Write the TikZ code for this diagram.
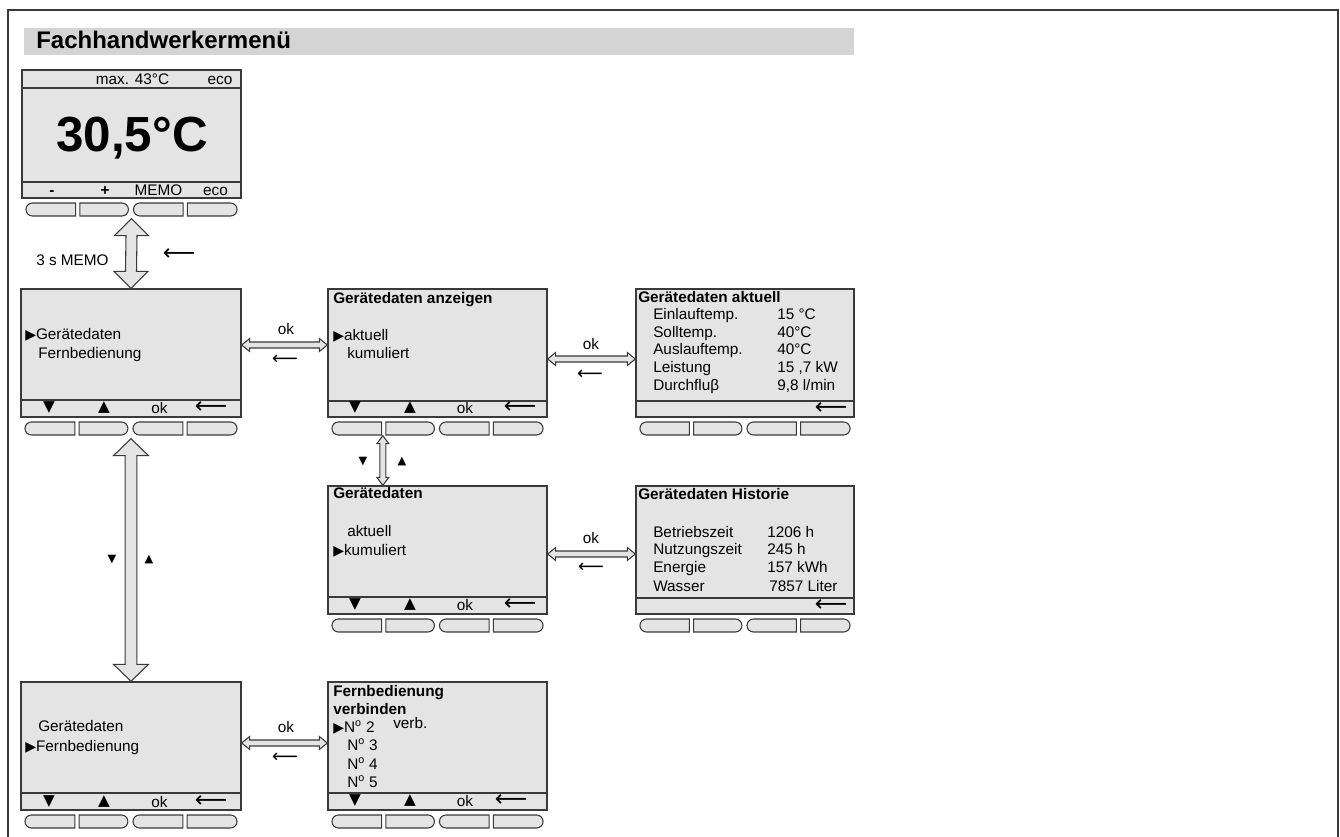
\documentclass[tikz,border=0pt]{standalone}
\usepackage{fontspec}
\setmainfont{Liberation Sans}
\newfontfamily\sym{DejaVu Sans}
\usetikzlibrary{calc,fit}
\definecolor{scr}{HTML}{E4E4E4}
\definecolor{barc}{HTML}{D4D4D4}
\definecolor{edge}{HTML}{3A3A3A}
\tikzset{
 screenbox/.style={draw=edge, fill=scr, line width=1pt, inner sep=0pt},
 sline/.style={draw=edge, line width=0.9pt},
 btn/.style={draw=edge, fill=scr, line width=0.8pt},
 blk/.style={draw=edge, fill=scr, line width=0.8pt, line join=miter},
 txt/.style={inner sep=0pt, font=\fontsize{11.5}{13}\selectfont, text height=8pt, text depth=0pt, anchor=west},
 ctxt/.style={txt, anchor=center},
 btxt/.style={txt, font=\fontsize{11.5}{13}\selectfont\bfseries},
 tri/.style={inner sep=0pt, font=\sym\fontsize{11.5}{12}\selectfont, anchor=center},
 smtri/.style={inner sep=0pt, font=\sym\fontsize{8.5}{10}\selectfont, anchor=center},
 back/.style={inner sep=0pt, font=\sym\fontsize{17}{17}\selectfont, anchor=center},
 sback/.style={inner sep=0pt, font=\sym\fontsize{13.5}{13.5}\selectfont, anchor=center},
}
\newcommand\ptr{{\sym\fontsize{10.5}{12}\selectfont ▶}}
\newcommand\btnL[3]{\draw[btn] ({#2},{#3}) -- ({#1+6.5},{#3}) arc[start angle=270,end angle=90,radius=6.5] -- ({#2},{#3+13}) -- cycle;}
\newcommand\btnR[3]{\draw[btn] ({#1},{#3}) -- ({#2-6.5},{#3}) arc[start angle=270,end angle=450,radius=6.5] -- ({#1},{#3+13}) -- cycle;}
\newcommand\screen[6]{%
 \node[screenbox, fit={(#2,#3)(#4,#5)}] (#1) {};
 \draw[sline] (#2,#6) -- (#4,#6);
 \pgfmathsetmacro\bw{#4-#2}
 \btnL{#2+0.018*\bw}{#2+0.245*\bw}{#5+5}
 \btnR{#2+0.264*\bw}{#2+0.486*\bw}{#5+5}
 \btnL{#2+0.509*\bw}{#2+0.736*\bw}{#5+5}
 \btnR{#2+0.755*\bw}{#2+0.982*\bw}{#5+5}
}
\newcommand\vblock[5]{\draw[blk] (#1) -- ($(#1)+(#4,#5)$) -- ($(#1)+(#3,#5)$) -- ($(#2)+(#3,-#5)$) -- ($(#2)+(#4,-#5)$) -- (#2) -- ($(#2)+(-#4,-#5)$) -- ($(#2)+(-#3,-#5)$) -- ($(#1)+(-#3,#5)$) -- ($(#1)+(-#4,#5)$) -- cycle;}
\newcommand\hblock[5]{\draw[blk] (#1) -- ($(#1)+(#5,-#4)$) -- ($(#1)+(#5,-#3)$) -- ($(#2)+(-#5,-#3)$) -- ($(#2)+(-#5,-#4)$) -- (#2) -- ($(#2)+(-#5,#4)$) -- ($(#2)+(-#5,#3)$) -- ($(#1)+(#5,#3)$) -- ($(#1)+(#5,#4)$) -- cycle;}
\begin{document}
\begin{tikzpicture}[x=0.75pt,y=-0.75pt]
\useasboundingbox (0,0) rectangle (1340,837);
% frame
\draw[edge, line width=1.1pt] (8,837) -- (8,10) -- (1338,10) -- (1338,837);
% title bar
\node[fill=barc, inner sep=0pt, fit={(24,28)(854,55)}] (bar) {};
\node[inner sep=0pt, anchor=west, font=\fontsize{18}{20}\selectfont\bfseries, text height=12.8pt, text depth=0pt] (title) at (36,39.5) {Fachhandwerkermenü};

% main display
\screen{s0}{22}{70}{241}{198}{182}
\draw[sline] (22,88) -- (241,88);
\node[ctxt] (s0a) at (132.5,79) {max. 43°C};
\node[ctxt] (s0b) at (220,79) {eco};
\node[inner sep=0pt, anchor=center, font=\fontsize{37}{40}\selectfont\bfseries, text height=26.5pt, text depth=0pt] (s0t) at (132,134) {30,5°C};
\node[ctxt, font=\fontsize{11.5}{13}\selectfont\bfseries] (s0k1) at (52,190) {-};
\node[ctxt, font=\fontsize{11.5}{13}\selectfont\bfseries] (s0k2) at (105,190) {+};
\node[ctxt] (s0k3) at (158.5,190) {MEMO};
\node[ctxt] (s0k4) at (215.5,190) {eco};

% menu 1
\screen{m1}{21}{289}{241}{417}{400}
\node[txt] (m1a) at (25,334) {\ptr Gerätedaten};
\node[txt] (m1b) at (38,353) {Fernbedienung};
\node[tri] (m1k1) at (49,408) {▼};
\node[tri] (m1k2) at (104,408) {▲};
\node[ctxt] (m1k3) at (159.5,408) {ok};
\node[back] (m1k4) at (211,408) {⟵};

% menu 2
\screen{m2}{328}{289}{547}{417}{401}
\node[btxt] (m2t) at (333,298) {Gerätedaten anzeigen};
\node[txt] (m2a) at (333,335) {\ptr aktuell};
\node[txt] (m2b) at (347,353) {kumuliert};
\node[tri] (m2k1) at (355,408) {▼};
\node[tri] (m2k2) at (410,408) {▲};
\node[ctxt] (m2k3) at (465,408) {ok};
\node[back] (m2k4) at (520,408) {⟵};

% menu 3
\screen{m3}{636}{289}{854}{417}{401}
\node[btxt] (m3t) at (638,297) {Gerätedaten aktuell};
\node[txt] (m3r1) at (653,314) {Einlauftemp.};
\node[txt] (m3r2) at (653,332) {Solltemp.};
\node[txt] (m3r3) at (653,349) {Auslauftemp.};
\node[txt] (m3r4) at (653,367) {Leistung};
\node[txt] (m3r5) at (653,385) {Durchfluβ};
\node[txt] (m3v1) at (777,314) {15 °C};
\node[txt] (m3v2) at (777,332) {40°C};
\node[txt] (m3v3) at (777,349) {40°C};
\node[txt] (m3v4) at (777,367) {15 ,7 kW};
\node[txt] (m3v5) at (777,385) {9,8 l/min};
\node[back] (m3k4) at (831,409) {⟵};

% menu 4
\screen{m4}{328}{486}{547}{614}{597}
\node[btxt] (m4t) at (333,493) {Gerätedaten};
\node[txt] (m4a) at (347,531) {aktuell};
\node[txt] (m4b) at (333,550) {\ptr kumuliert};
\node[tri] (m4k1) at (355,605) {▼};
\node[tri] (m4k2) at (410,605) {▲};
\node[ctxt] (m4k3) at (465,605) {ok};
\node[back] (m4k4) at (520,605) {⟵};

% menu 5
\screen{m5}{636}{486}{854}{614}{598}
\node[btxt] (m5t) at (638,494) {Gerätedaten Historie};
\node[txt] (m5r1) at (653,532) {Betriebszeit};
\node[txt] (m5r2) at (653,549) {Nutzungszeit};
\node[txt] (m5r3) at (653,567) {Energie};
\node[txt] (m5r4) at (653,586) {Wasser};
\node[txt] (m5v1) at (767,532) {1206 h};
\node[txt] (m5v2) at (767,549) {245 h};
\node[txt] (m5v3) at (767,567) {157 kWh};
\node[txt] (m5v4) at (769,586) {7857 Liter};
\node[back] (m5k4) at (831,606) {⟵};

% menu 6
\screen{m6}{21}{682}{241}{810}{793}
\node[txt] (m6a) at (38,726) {Gerätedaten};
\node[txt] (m6b) at (25,746) {\ptr Fernbedienung};
\node[tri] (m6k1) at (49,802) {▼};
\node[tri] (m6k2) at (104,802) {▲};
\node[ctxt] (m6k3) at (159.5,802) {ok};
\node[back] (m6k4) at (211,802) {⟵};

% menu 7
\screen{m7}{328}{682}{547}{810}{793}
\node[btxt] (m7t) at (333,691) {Fernbedienung};
\node[btxt] (m7t2) at (333,709) {verbinden};
\node[txt] (m7a) at (333,727) {\ptr N\textsuperscript{o} 2};
\node[txt] (m7v) at (393,723) {verb.};
\node[txt] (m7b) at (347,745) {N\textsuperscript{o} 3};
\node[txt] (m7c) at (347,764) {N\textsuperscript{o} 4};
\node[txt] (m7d) at (347,782) {N\textsuperscript{o} 5};
\node[tri] (m7k1) at (355,801) {▼};
\node[tri] (m7k2) at (410,801) {▲};
\node[ctxt] (m7k3) at (465,801) {ok};
\node[back] (m7k4) at (511,801) {⟵};

% connectors
\coordinate (A1) at ($(s0.south)+(0,20)$);
\vblock{A1}{m1.north}{5.5}{17}{17}
\node[txt] (l1) at (36,260) {3 s MEMO};
\node[back] (l1b) at (179,255) {⟵};

\coordinate (A2) at ($(m1.south)+(0,21)$);
\vblock{A2}{m6.north}{5.8}{17.5}{17}
\node[smtri] (l2a) at (112,560) {▼};
\node[smtri] (l2b) at (149,560) {▲};

\coordinate (A3) at ($(m2.south west)+(55.5,18)$);
\coordinate (A4) at (A3 |- m4.north);
\vblock{A3}{A4}{3}{6}{8}
\node[smtri] (l3a) at (363,462) {▼};
\node[smtri] (l3b) at (402,462) {▲};

\coordinate (H1a) at (m1.east |- 0,345);
\coordinate (H1b) at (m2.west |- 0,345);
\hblock{H1a}{H1b}{3}{6.5}{8}
\node[ctxt] (h1o) at (286,329) {ok};
\node[sback] (h1b) at (285,360) {⟵};

\coordinate (H2a) at (m2.east |- 0,359);
\coordinate (H2b) at (m3.west |- 0,359);
\hblock{H2a}{H2b}{3}{6.5}{8}
\node[ctxt] (h2o) at (591,344) {ok};
\node[sback] (h2b) at (590,375) {⟵};

\coordinate (H3a) at (m4.east |- 0,554);
\coordinate (H3b) at (m5.west |- 0,554);
\hblock{H3a}{H3b}{3}{6.5}{8}
\node[ctxt] (h3o) at (591,538) {ok};
\node[sback] (h3b) at (591,568) {⟵};

\coordinate (H4a) at (m6.east |- 0,743);
\coordinate (H4b) at (m7.west |- 0,743);
\hblock{H4a}{H4b}{3}{6.5}{8}
\node[ctxt] (h4o) at (286,727) {ok};
\node[sback] (h4b) at (285,758) {⟵};
\end{tikzpicture}
\end{document}
